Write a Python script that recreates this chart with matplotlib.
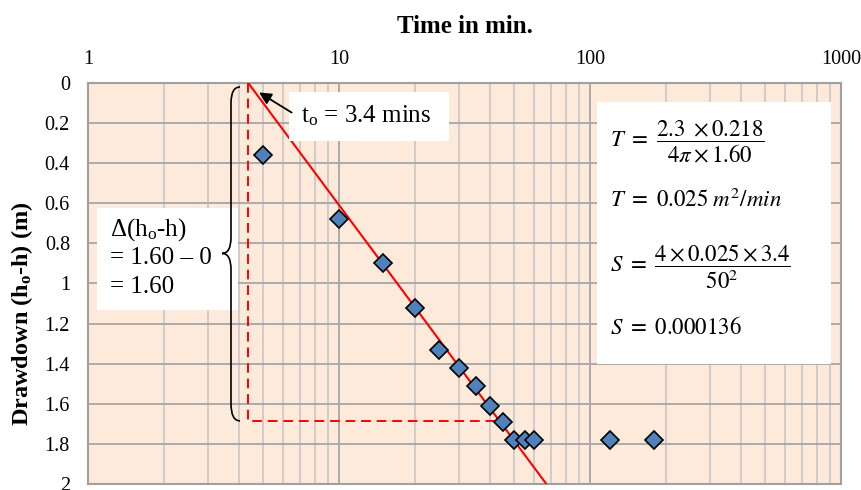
import numpy as np
import matplotlib
matplotlib.use("Agg")
import matplotlib.pyplot as plt
from matplotlib.path import Path
from matplotlib.patches import PathPatch, Rectangle
import matplotlib.transforms as mtransforms
from matplotlib.ticker import FuncFormatter, LogLocator, FixedLocator

plt.rcParams['font.family'] = ['Liberation Serif', 'DejaVu Serif']
plt.rcParams['mathtext.fontset'] = 'custom'
plt.rcParams['mathtext.rm'] = 'Liberation Serif'
plt.rcParams['mathtext.it'] = 'Liberation Serif:italic'
plt.rcParams['mathtext.bf'] = 'Liberation Serif:bold'

# observed drawdown data (time in min, drawdown in m)
time_min = [5, 10, 15, 20, 25, 30, 35, 40, 45, 50, 55, 60, 120, 180]
drawdown = [0.36, 0.68, 0.90, 1.12, 1.33, 1.42, 1.51, 1.61, 1.69, 1.78, 1.78, 1.78, 1.78, 1.78]

# fitted straight line (Cooper-Jacob) and construction lines
fit_t = [4.35, 67.0]
fit_s = [0.0, 2.0]
dash_t = [4.35, 4.35, 44.0]
dash_s = [0.0, 1.685, 1.685]

x_ticks = [1, 10, 100, 1000]
y_ticks = [0, 0.2, 0.4, 0.6, 0.8, 1.0, 1.2, 1.4, 1.6, 1.8, 2.0]

fig = plt.figure(figsize=(8.61, 4.90), dpi=100)
L, R, T, B = 88, 841, 83, 484
ax = fig.add_axes([L / 861, 1 - B / 490, (R - L) / 861, (B - T) / 490])
ax.set_facecolor('#FDEADA')

ax.set_xscale('log')
ax.set_xlim(1, 1000)
ax.set_ylim(2, 0)

# grid: minor log lines + major horizontal lines
ax.xaxis.set_major_locator(FixedLocator(x_ticks))
ax.xaxis.set_minor_locator(LogLocator(base=10, subs=np.arange(2, 10)))
ax.yaxis.set_major_locator(FixedLocator(y_ticks))
ax.grid(True, which='major', axis='both', color='#a6a6a6', lw=1.3)
ax.grid(True, which='minor', axis='x', color='#c4c4c4', lw=1.1)
ax.set_axisbelow(True)

ax.xaxis.tick_top()
ax.xaxis.set_label_position('top')
ax.xaxis.set_major_formatter(FuncFormatter(lambda v, p: '%g' % v))
ax.xaxis.set_minor_formatter(FuncFormatter(lambda v, p: ''))
ax.yaxis.set_major_formatter(FuncFormatter(lambda v, p: '%g' % v))
ax.tick_params(which='both', length=0, labelsize=14.5)
ax.tick_params(axis='y', pad=13)
ax.tick_params(axis='x', pad=10)
for s in ax.spines.values():
    s.set_color('#a0a0a0')
    s.set_linewidth(1.5)


def fx(px):
    return (px - L) / (R - L)


def fy(py):
    return (B - py) / (B - T)


ax.set_xlabel('Time in min.', fontsize=18, fontweight='bold', labelpad=12)
ax.set_ylabel(r'Drawdown (h$_\mathbf{o}$-h) (m)', fontsize=17.5, fontweight='bold')
ax.yaxis.set_label_coords(fx(35), fy(314))

# construction lines and fit
ax.plot(dash_t, dash_s, color='#ff0000', lw=1.4, ls=(0, (5, 3)), zorder=3)
ax.plot(fit_t, fit_s, color='#ff0000', lw=1.5, zorder=4, clip_on=True)
ax.plot(time_min, drawdown, ls='none', marker='D', ms=9.5,
        mfc='#4F81BD', mec='black', mew=1.2, zorder=5)

# white boxes
for (x0, y0, x1, y1) in [(289, 92, 449, 141), (97, 208, 238, 310), (597, 102, 831, 364)]:
    ax.add_patch(Rectangle((fx(x0), fy(y1)), fx(x1) - fx(x0), fy(y0) - fy(y1),
                           transform=ax.transAxes, facecolor='white',
                           edgecolor='none', zorder=6))

ax.text(fx(301), fy(116), r't$_\mathrm{o}$ = 3.4 mins', transform=ax.transAxes,
        fontsize=18, va='center', ha='left', zorder=7)
ax.annotate('', xy=(4.7, 0.04), xytext=(fx(294), fy(114)),
            textcoords='axes fraction',
            arrowprops=dict(arrowstyle='-|>', color='black', lw=1.3,
                            mutation_scale=18), zorder=7)

for txt, py in [(r'$\Delta$(h$_\mathrm{o}$-h)', 230), ('= 1.60 \u2013 0', 258), ('= 1.60', 287)]:
    ax.text(fx(110), fy(py), txt, transform=ax.transAxes, fontsize=18,
            va='center', ha='left', zorder=7)

# curly brace
bt = mtransforms.blended_transform_factory(ax.transAxes, ax.transData)
xa, xb, xc = fx(240), fx(231), fx(222)
verts = [(xa, 0.02), (xb, 0.02), (xb, 0.10),
         (xb, 0.77),
         (xb, 0.85), (xc, 0.85),
         (xb, 0.85), (xb, 0.93),
         (xb, 1.60),
         (xb, 1.685), (xa, 1.685)]
codes = [Path.MOVETO, Path.CURVE3, Path.CURVE3, Path.LINETO,
         Path.CURVE3, Path.CURVE3, Path.CURVE3, Path.CURVE3,
         Path.LINETO, Path.CURVE3, Path.CURVE3]
ax.add_patch(PathPatch(Path(verts, codes), transform=bt, facecolor='none',
                       edgecolor='black', lw=1.2, zorder=7))

# equations
eqs = [(r'$T\ =\ \dfrac{2.3\ \times 0.218}{4\pi \times 1.60}$', 142),
       (r'$T\ =\ 0.025\ m^2/min$', 200),
       (r'$S\ =\ \dfrac{4 \times 0.025 \times 3.4}{50^2}$', 267),
       (r'$S\ =\ 0.000136$', 328)]
for txt, py in eqs:
    ax.text(fx(610), fy(py), txt, transform=ax.transAxes, fontsize=16.5,
            va='center', ha='left', zorder=7, math_fontfamily='stix')

fig.savefig('out.png', dpi=100)
